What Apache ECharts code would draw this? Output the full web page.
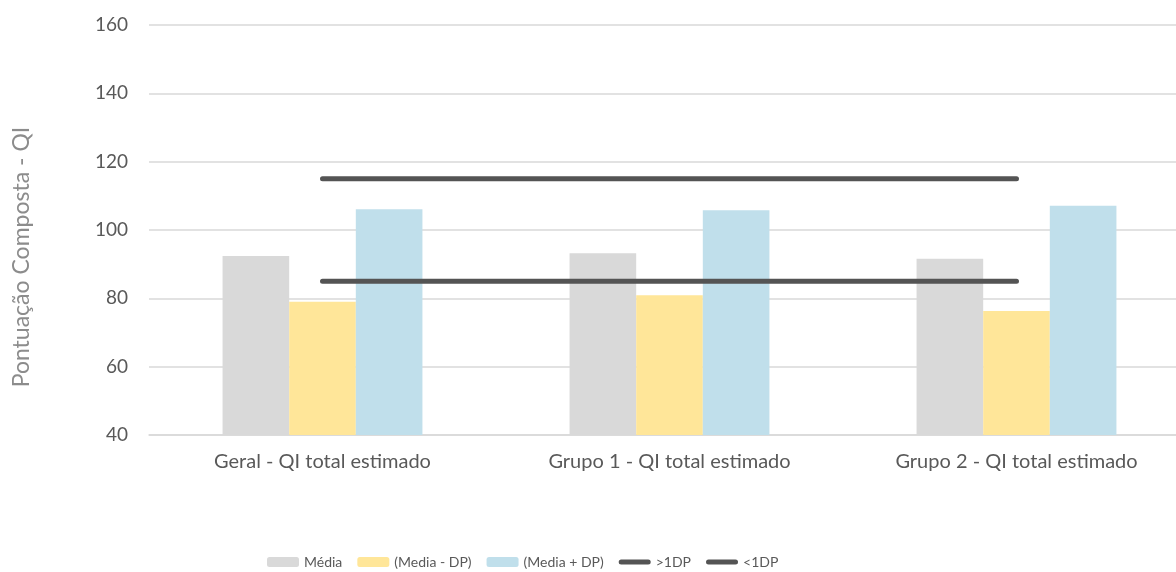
<!DOCTYPE html>
<html>
<head>
<meta charset="utf-8">
<script src="https://cdn.jsdelivr.net/npm/echarts@6/dist/echarts.min.js"></script>
<style>
  html, body { margin: 0; padding: 0; background: #ffffff; }
  #chart { width: 1176px; height: 572px; }
</style>
</head>
<body>
<div id="chart"></div>
<script>
// Categories and values
const categories = ['Geral - QI total estimado', 'Grupo 1 - QI total estimado', 'Grupo 2 - QI total estimado'];
const media = [92.4, 93.2, 91.6];
const mediaMenosDP = [79.0, 80.9, 76.3];
const mediaMaisDP = [106.1, 105.8, 107.1];
const acima1DP = [115, 115, 115];
const abaixo1DP = [85, 85, 85];
const yTicks = [40, 60, 80, 100, 120, 140, 160];

const font = 'Lato, "Open Sans", sans-serif';
const textGray = '#595959';
const lineColor = '#545454';
// rounded bar used as the legend symbol of the reference lines
const roundLineIcon = 'path://M2.5,0 L29.5,0 A2.5,2.5 0 0 1 29.5,5 L2.5,5 A2.5,2.5 0 0 1 2.5,0 Z';

const chart = echarts.init(document.getElementById('chart'));
chart.setOption({
  animation: false,
  backgroundColor: '#ffffff',
  grid: { left: 149, width: 1041, top: 25, bottom: 137, containLabel: false, outerBoundsMode: 'none' },
  legend: {
    left: 262, top: 550,
    itemWidth: 32, itemHeight: 10, itemGap: 15,
    textStyle: { color: textGray, fontSize: 14, fontFamily: font },
    data: [
      { name: 'Média' },
      { name: '(Media - DP)' },
      { name: '(Media + DP)' },
      { name: '>1DP', icon: roundLineIcon },
      { name: '<1DP', icon: roundLineIcon }
    ]
  },
  xAxis: {
    type: 'category',
    data: categories,
    axisLine: { lineStyle: { color: '#d9d9d9', width: 1.5 } },
    axisTick: { show: false },
    axisLabel: { color: textGray, fontSize: 20, fontFamily: font, margin: 17 }
  },
  yAxis: {
    type: 'value',
    min: yTicks[0], max: yTicks[yTicks.length - 1], interval: 20,
    name: 'Pontuação Composta - QI',
    nameLocation: 'middle',
    nameGap: 116,
    nameTextStyle: { color: '#8c8c8c', fontSize: 23, fontFamily: font, padding: [0, 54, 0, 0] },
    axisLine: { show: false },
    axisTick: { show: false },
    axisLabel: { color: textGray, fontSize: 19, fontFamily: font, margin: 21 },
    splitLine: { lineStyle: { color: '#d9d9d9', width: 1.5 } }
  },
  series: [
    { name: 'Média', type: 'bar', data: media, barGap: 0, barCategoryGap: '42.4%',
      itemStyle: { color: '#d9d9d9' } },
    { name: '(Media - DP)', type: 'bar', data: mediaMenosDP,
      itemStyle: { color: '#ffe699' } },
    { name: '(Media + DP)', type: 'bar', data: mediaMaisDP,
      itemStyle: { color: '#c0dfeb' } },
    { name: '>1DP', type: 'line', data: acima1DP, symbol: 'none', z: 5,
      itemStyle: { color: lineColor },
      lineStyle: { color: lineColor, width: 5, cap: 'round' } },
    { name: '<1DP', type: 'line', data: abaixo1DP, symbol: 'none', z: 5,
      itemStyle: { color: lineColor },
      lineStyle: { color: lineColor, width: 5, cap: 'round' } }
  ]
});
</script>
</body>
</html>
